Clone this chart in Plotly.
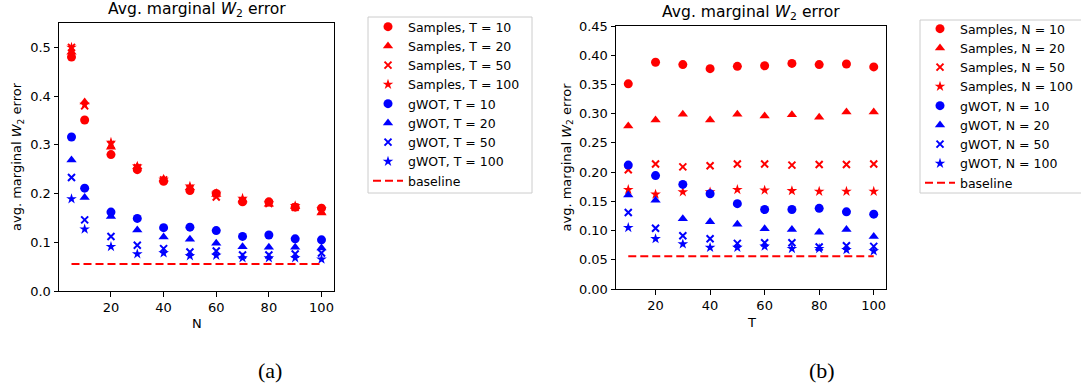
import plotly.graph_objects as go

# ---------------- data ----------------
N_vals = [5, 10, 20, 30, 40, 50, 60, 70, 80, 90, 100]
T_vals = [10, 20, 30, 40, 50, 60, 70, 80, 90, 100]

# panel (a): error vs N, one series per T
samp_T10 = [0.480, 0.351, 0.280, 0.249, 0.225, 0.206, 0.200, 0.183, 0.183, 0.172, 0.170]
samp_T20 = [0.490, 0.388, 0.295, 0.255, 0.230, 0.212, 0.198, 0.187, 0.178, 0.173, 0.160]
samp_T50 = [0.500, 0.380, 0.300, 0.253, 0.228, 0.210, 0.193, 0.185, 0.180, 0.172, 0.165]
samp_T100 = [0.500, 0.383, 0.305, 0.256, 0.229, 0.215, 0.200, 0.190, 0.180, 0.175, 0.168]
gwot_T10 = [0.316, 0.211, 0.162, 0.149, 0.130, 0.131, 0.124, 0.112, 0.115, 0.107, 0.105]
gwot_T20 = [0.269, 0.192, 0.153, 0.125, 0.111, 0.106, 0.098, 0.091, 0.090, 0.090, 0.088]
gwot_T50 = [0.233, 0.146, 0.112, 0.094, 0.087, 0.080, 0.082, 0.074, 0.074, 0.076, 0.078]
gwot_T100 = [0.189, 0.127, 0.091, 0.076, 0.078, 0.072, 0.073, 0.068, 0.068, 0.068, 0.065]
baseline_a = 0.0555

# panel (b): error vs T, one series per N
samp_N10 = [0.351, 0.388, 0.384, 0.377, 0.381, 0.382, 0.386, 0.384, 0.385, 0.380]
samp_N20 = [0.279, 0.289, 0.299, 0.289, 0.299, 0.296, 0.298, 0.294, 0.303, 0.303]
samp_N50 = [0.204, 0.214, 0.209, 0.211, 0.214, 0.214, 0.212, 0.213, 0.213, 0.214]
samp_N100 = [0.170, 0.162, 0.166, 0.166, 0.170, 0.169, 0.168, 0.167, 0.167, 0.167]
gwot_N10 = [0.212, 0.194, 0.179, 0.163, 0.146, 0.136, 0.136, 0.138, 0.132, 0.128]
gwot_N20 = [0.161, 0.152, 0.120, 0.115, 0.111, 0.103, 0.102, 0.097, 0.102, 0.090]
gwot_N50 = [0.131, 0.104, 0.091, 0.086, 0.078, 0.079, 0.079, 0.072, 0.074, 0.073]
gwot_N100 = [0.105, 0.086, 0.077, 0.071, 0.071, 0.073, 0.069, 0.069, 0.067, 0.065]
baseline_b = 0.056

levels = ["10", "20", "50", "100"]

# ---------------- layout helpers ----------------
W, H = 1081, 387
def px(x):
    return x / W
def py(y):
    return 1 - y / H

FONT = "DejaVu Sans"
RED, BLUE = "#ff0000", "#0000ff"
symbols = ["circle", "triangle-up", "x-thin", "star"]
sizes = [9, 9, 7, 8]

fig = go.Figure()

def add_panel(xv, samp, gwot, base, var, xa, ya, leg):
    for i, s in enumerate(samp):
        fig.add_trace(go.Scatter(
            x=xv, y=s, mode="markers", name=f"Samples, {var} = {levels[i]}",
            marker=dict(symbol=symbols[i], size=sizes[i], color=RED,
                        line=dict(color=RED, width=2 if symbols[i] == "x-thin" else 0)),
            xaxis=xa, yaxis=ya, legend=leg))
    for i, s in enumerate(gwot):
        fig.add_trace(go.Scatter(
            x=xv, y=s, mode="markers", name=f"gWOT, {var} = {levels[i]}",
            marker=dict(symbol=symbols[i], size=sizes[i], color=BLUE,
                        line=dict(color=BLUE, width=2 if symbols[i] == "x-thin" else 0)),
            xaxis=xa, yaxis=ya, legend=leg))
    fig.add_trace(go.Scatter(
        x=[xv[0], xv[-1]], y=[base, base], mode="lines", name="baseline",
        line=dict(color=RED, width=2, dash="8px,4px"),
        xaxis=xa, yaxis=ya, legend=leg))

add_panel(N_vals, [samp_T10, samp_T20, samp_T50, samp_T100],
          [gwot_T10, gwot_T20, gwot_T50, gwot_T100], baseline_a, "T", "x", "y", "legend")
add_panel(T_vals, [samp_N10, samp_N20, samp_N50, samp_N100],
          [gwot_N10, gwot_N20, gwot_N50, gwot_N100], baseline_b, "N", "x2", "y2", "legend2")

axis_common = dict(showline=True, linecolor="black", linewidth=1, mirror=True,
                   ticks="outside", ticklen=4.5, tickwidth=1, tickcolor="black",
                   showgrid=False, zeroline=False,
                   tickfont=dict(family=FONT, size=13, color="black"))

# panel geometry (pixels)
A = dict(l=59, r=334, t=23, b=291)
B = dict(l=616, r=886, t=26, b=289)

legend_common = dict(xanchor="left", yanchor="top", bgcolor="rgba(0,0,0,0)",
                     borderwidth=0, font=dict(family=FONT, size=12.5, color="black"),
                     tracegroupgap=0)

fig.update_layout(
    width=W, height=H,
    margin=dict(l=0, r=0, t=0, b=0, autoexpand=False),
    paper_bgcolor="white", plot_bgcolor="white",
    showlegend=True,
    xaxis=dict(domain=[px(A["l"]), px(A["r"])], range=[0.25, 104.75],
               tickvals=[20, 40, 60, 80, 100], anchor="y", **axis_common),
    yaxis=dict(domain=[py(A["b"]), py(A["t"])], range=[0, 0.55],
               tickvals=[0, 0.1, 0.2, 0.3, 0.4, 0.5], tickformat=".1f", anchor="x", **axis_common),
    xaxis2=dict(domain=[px(B["l"]), px(B["r"])], range=[5.5, 104.5],
                tickvals=[20, 40, 60, 80, 100], anchor="y2", **axis_common),
    yaxis2=dict(domain=[py(B["b"]), py(B["t"])], range=[0, 0.45],
                tickvals=[0, 0.05, 0.1, 0.15, 0.2, 0.25, 0.3, 0.35, 0.4, 0.45],
                tickformat=".2f", anchor="x2", **axis_common),
    legend=dict(x=px(368), y=py(12), **legend_common),
    legend2=dict(x=px(920), y=py(14), **legend_common),
)

# legend frames
fig.add_shape(type="rect", xref="paper", yref="paper", x0=px(368), x1=px(532),
              y0=py(193), y1=py(17), line=dict(color="#cccccc", width=1),
              fillcolor="white", layer="above")
fig.add_shape(type="rect", xref="paper", yref="paper", x0=px(920), x1=px(1086),
              y0=py(193), y1=py(20), line=dict(color="#cccccc", width=1),
              fillcolor="white", layer="above")

title_txt = "Avg. marginal <i>W</i><sub>2</sub> error"
ylab_txt = "avg. marginal <i>W</i><sub>2</sub> error"
ann = []
def add_ann(text, x, y, size, family=FONT, angle=0):
    ann.append(dict(text=text, x=px(x), y=py(y), xref="paper", yref="paper",
                    xanchor="center", yanchor="middle", showarrow=False,
                    textangle=angle, font=dict(family=family, size=size, color="black")))

add_ann(title_txt, (A["l"] + A["r"]) / 2, 10, 15.6)
add_ann(title_txt, (B["l"] + B["r"]) / 2, 13, 15.6)
add_ann(ylab_txt, 17, (A["t"] + A["b"]) / 2, 13, angle=-90)
add_ann(ylab_txt, 567, (B["t"] + B["b"]) / 2, 13, angle=-90)
add_ann("N", (A["l"] + A["r"]) / 2, 323, 13)
add_ann("T", (B["l"] + B["r"]) / 2, 322, 13)
add_ann("(a)", 270, 370, 22, family="Liberation Serif")
add_ann("(b)", 822, 370, 22, family="Liberation Serif")
fig.update_layout(annotations=ann)

fig.write_html("out.html")
